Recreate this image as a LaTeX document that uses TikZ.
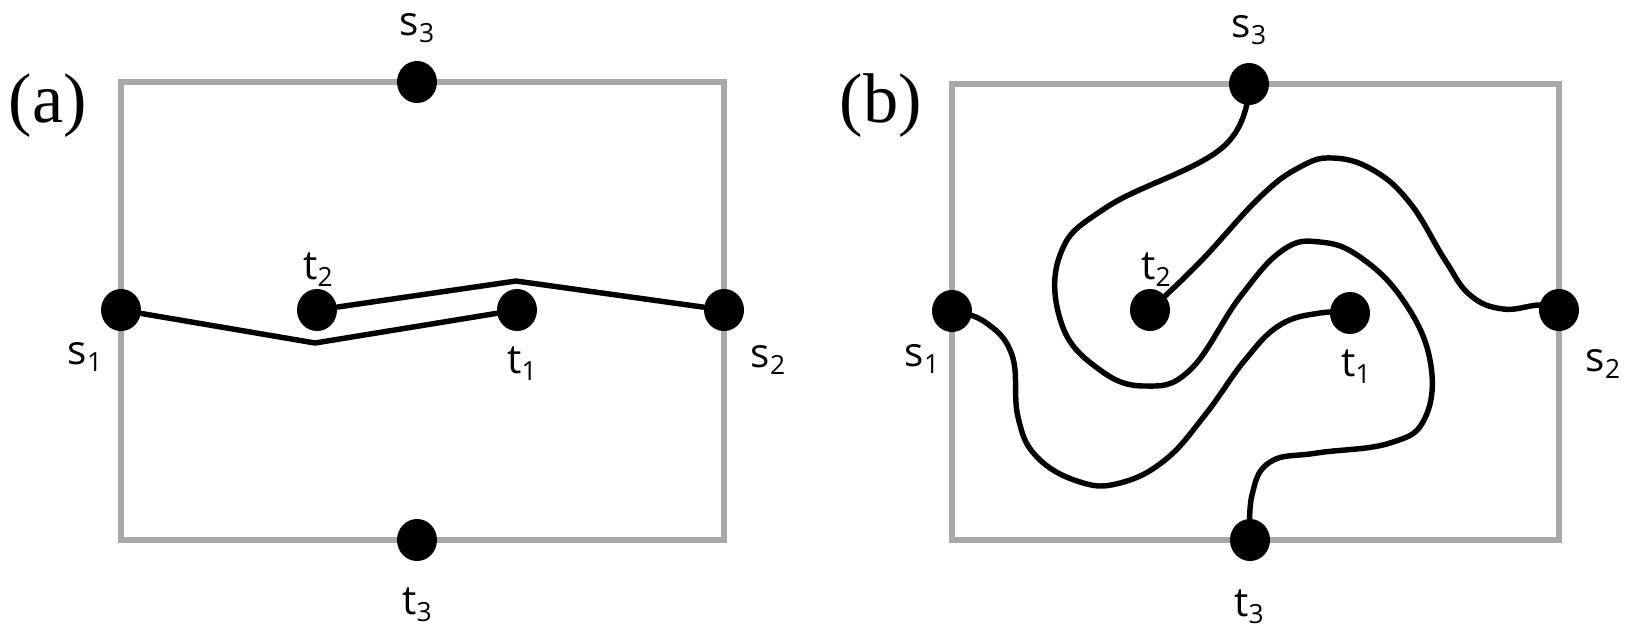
\documentclass[tikz,border=0pt]{standalone}
\usepackage{fontspec}
\setmainfont{Liberation Serif}
\newfontfamily\pinfont{Open Sans}
\usetikzlibrary{
  shapes.geometric
}
\definecolor{ink}{HTML}{000000}
\definecolor{frame}{HTML}{A8A8A8}
\newcommand{\pin}[2]{#1\raisebox{-2pt}{\fontsize{7.5}{8}\selectfont #2}}
\tikzset{
  board/.style={
    draw=frame,
    line width=1.9pt
  },
  terminal/.style={
    ellipse,
    fill=ink,
    minimum width=0.4cm,
    minimum height=0.42cm,
    inner sep=0pt
  },
  pinlabel/.style={
    font=\pinfont\fontsize{11.5}{12}\selectfont,
    inner sep=0pt
  },
  panel/.style={
    font=\fontsize{20}{22}\selectfont,
    inner sep=0pt
  },
  wire/.style={
    draw=ink,
    line width=1.55pt,
    line join=round,
    line cap=round
  }
}

\begin{document}
\begin{tikzpicture}[x=0.01cm, y=-0.01cm]
    \useasboundingbox (0,0) rectangle (1632,635);
    % (a) straight routing
    \draw[board] (121,82) rectangle (724,540);
    \node[panel] (tagA) at (48,106) {(a)};
    \node[terminal] (s1a) at (121,310) {};
    \node[terminal] (s2a) at (724,310) {};
    \node[terminal] (s3a) at (417,82) {};
    \node[terminal] (t3a) at (417,540) {};
    \node[terminal] (t2a) at (317,310) {};
    \node[terminal] (t1a) at (517,310) {};
    \node[pinlabel] (s1alab) at (85,357) {\pin{s}{1}};
    \node[pinlabel] (s2alab) at (768,360) {\pin{s}{2}};
    \node[pinlabel] (s3alab) at (417,28) {\pin{s}{3}};
    \node[pinlabel] (t3alab) at (417,605) {\pin{t}{3}};
    \node[pinlabel] (t2alab) at (318,270) {\pin{t}{2}};
    \node[pinlabel] (t1alab) at (522,364) {\pin{t}{1}};
    \draw[wire] (s1a) -- (315,343) -- (t1a);
    \draw[wire] (t2a) -- (516,281) -- (s2a);

    % (b) winding routing
    \draw[board] (952,84) rectangle (1559,540);
    \node[panel] (tagB) at (881,106) {(b)};
    \node[terminal] (s1b) at (952,311) {};
    \node[terminal] (s2b) at (1559,310) {};
    \node[terminal] (s3b) at (1249,84) {};
    \node[terminal] (t3b) at (1250,540) {};
    \node[terminal] (t2b) at (1150,310) {};
    \node[terminal] (t1b) at (1350,313) {};
    \node[pinlabel] (s1blab) at (922,359) {\pin{s}{1}};
    \node[pinlabel] (s2blab) at (1603,364) {\pin{s}{2}};
    \node[pinlabel] (s3blab) at (1249,30) {\pin{s}{3}};
    \node[pinlabel] (t3blab) at (1249,607) {\pin{t}{3}};
    \node[pinlabel] (t2blab) at (1156,270) {\pin{t}{2}};
    \node[pinlabel] (t1blab) at (1356,367) {\pin{t}{1}};
    \draw[wire] plot[smooth, tension=0.7] coordinates {
      (s3b) (1223,147) (1107,207) (1060,255) (1062,325) (1100,370)
      (1145,386) (1190,370) (1240,297) (1283,250) (1320,242) (1360,257)
      (1403,300) (1430,360) (1425,418) (1390,443) (1317,453) (1270,462)
      (1252,495) (t3b)};
    \draw[wire] plot[smooth, tension=0.7] coordinates {
      (t2b) (1200,262) (1260,197) (1300,167) (1333,158) (1373,170)
      (1410,203) (1445,260) (1470,295) (1503,309) (1540,305) (s2b)};
    \draw[wire] plot[smooth, tension=0.7] coordinates {
      (s1b) (985,322) (1012,355) (1018,417) (1037,457) (1080,482)
      (1120,483) (1165,460) (1205,415) (1245,360) (1280,325) (1320,313)
      (t1b)};
\end{tikzpicture}
\end{document}
